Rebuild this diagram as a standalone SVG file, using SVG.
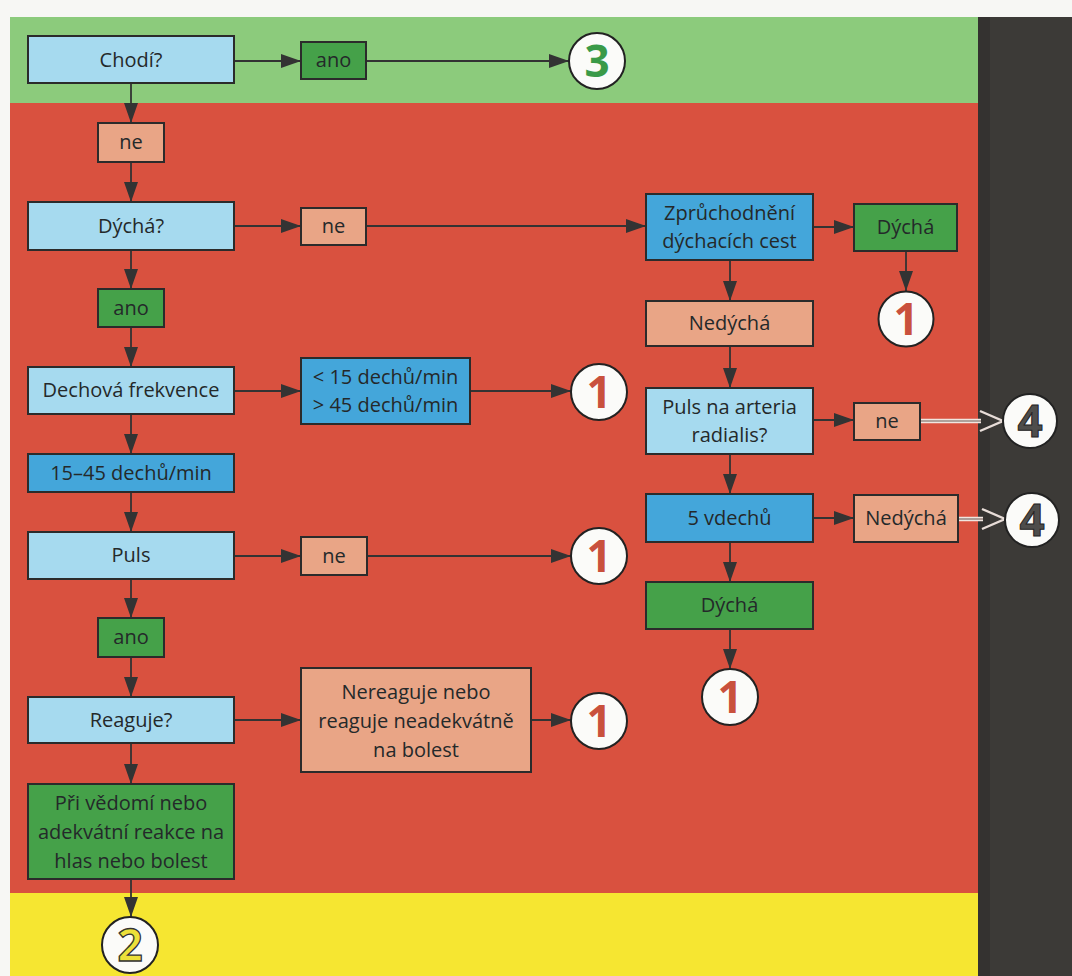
<svg xmlns="http://www.w3.org/2000/svg" width="1072" height="976" viewBox="0 0 1072 976">
<defs>
<style>
.box{stroke:#2b2b2b;stroke-width:2}
.lb{fill:#a6daef}
.mb{fill:#44a6da}
.dg{fill:#45a149}
.sa{fill:#e9a586}
.t{font-family:"Open Sans","Noto Sans","Liberation Sans",sans-serif;font-size:20px;fill:#24292a;text-anchor:middle}
.c{fill:#fbfbf9;stroke:#222;stroke-width:2}
.n{font-family:"Open Sans","Liberation Sans",sans-serif;font-weight:700;font-size:44px;text-anchor:middle}
.ln{fill:none;stroke:#333;stroke-width:1.8}
.dbl{fill:none;stroke:#f0e6e0;stroke-width:4.5}
.dbi{fill:none;stroke:#9a8a84;stroke-width:1.6}
</style>
<marker id="ah" markerUnits="userSpaceOnUse" markerWidth="20" markerHeight="14" refX="20" refY="7" orient="auto">
<path d="M0,0 L20,7 L0,14 z" fill="#333"/>
</marker>
</defs>
<rect x="0" y="0" width="1072" height="976" fill="#f7f7f4"/>
<rect x="10" y="17" width="970" height="86" fill="#8ccb7c"/>
<rect x="10" y="103" width="970" height="790" fill="#d9513f"/>
<rect x="10" y="893" width="970" height="83" fill="#f6e631"/>
<rect x="978" y="17" width="94" height="959" fill="#3c3a37"/>
<rect x="978" y="17" width="12" height="959" fill="#343230"/>

<g id="connectors">
<path class="ln" d="M234,61 H301" marker-end="url(#ah)"/>
<path class="ln" d="M366,61 H569" marker-end="url(#ah)"/>
<path class="ln" d="M131,83 V123" marker-end="url(#ah)"/>
<path class="ln" d="M131,162 V202" marker-end="url(#ah)"/>
<path class="ln" d="M234,226 H301" marker-end="url(#ah)"/>
<path class="ln" d="M366,226 H646" marker-end="url(#ah)"/>
<path class="ln" d="M813,227 H854" marker-end="url(#ah)"/>
<path class="ln" d="M906,251 V291" marker-end="url(#ah)"/>
<path class="ln" d="M730,260 V301" marker-end="url(#ah)"/>
<path class="ln" d="M730,346 V388" marker-end="url(#ah)"/>
<path class="ln" d="M813,420 H854" marker-end="url(#ah)"/>
<path class="ln" d="M730,454 V494" marker-end="url(#ah)"/>
<path class="ln" d="M813,518 H854" marker-end="url(#ah)"/>
<path class="ln" d="M730,542 V582" marker-end="url(#ah)"/>
<path class="ln" d="M730,629 V669" marker-end="url(#ah)"/>
<path class="ln" d="M131,250 V289" marker-end="url(#ah)"/>
<path class="ln" d="M131,327 V367" marker-end="url(#ah)"/>
<path class="ln" d="M234,391 H301" marker-end="url(#ah)"/>
<path class="ln" d="M470,391 H571" marker-end="url(#ah)"/>
<path class="ln" d="M131,414 V454" marker-end="url(#ah)"/>
<path class="ln" d="M131,492 V532" marker-end="url(#ah)"/>
<path class="ln" d="M234,556 H301" marker-end="url(#ah)"/>
<path class="ln" d="M367,556 H571" marker-end="url(#ah)"/>
<path class="ln" d="M131,579 V618" marker-end="url(#ah)"/>
<path class="ln" d="M131,657 V697" marker-end="url(#ah)"/>
<path class="ln" d="M234,720 H301" marker-end="url(#ah)"/>
<path class="ln" d="M531,720 H571" marker-end="url(#ah)"/>
<path class="ln" d="M131,743 V784" marker-end="url(#ah)"/>
<path class="ln" d="M131,879 V917" marker-end="url(#ah)"/>
<g id="double-arrows">
<path class="dbl" d="M920,421 H981"/>
<path class="dbi" d="M920,421 H981"/>
<path d="M980,411 L1003,421 L980,431" fill="none" stroke="#e8ddd8" stroke-width="2.4"/>
<path class="dbl" d="M958,519 H983"/>
<path class="dbi" d="M958,519 H983"/>
<path d="M982,509 L1005,519 L982,529" fill="none" stroke="#e8ddd8" stroke-width="2.4"/>
</g>
</g>

<g id="chodi"><rect class="box lb" x="28" y="36" width="206" height="47"/><text class="t" x="131" y="67">Chodí?</text></g>
<g id="chodi-ano"><rect class="box dg" x="301" y="42" width="65" height="37"/><text class="t" x="333.5" y="67">ano</text></g>
<g id="c3"><circle class="c" cx="597" cy="61" r="28"/><text class="n" x="597" y="77" fill="#3a9a48">3</text></g>
<g id="chodi-ne"><rect class="box sa" x="98" y="123" width="66" height="39"/><text class="t" x="131" y="149">ne</text></g>
<g id="dycha"><rect class="box lb" x="28" y="202" width="206" height="48"/><text class="t" x="131" y="233">Dýchá?</text></g>
<g id="dycha-ne"><rect class="box sa" x="301" y="208" width="65" height="37"/><text class="t" x="333.5" y="233">ne</text></g>
<g id="zpruchodneni"><rect class="box mb" x="646" y="194" width="167" height="66"/><text class="t" x="729.5" y="220">Zprůchodnění</text><text class="t" x="729.5" y="248">dýchacích cest</text></g>
<g id="dycha2"><rect class="box dg" x="854" y="204" width="103" height="47"/><text class="t" x="905.5" y="234">Dýchá</text></g>
<g id="c1a"><circle class="c" cx="906" cy="319" r="27.5"/><text class="n" x="906" y="335" fill="#c9513d">1</text></g>
<g id="nedycha1"><rect class="box sa" x="646" y="301" width="167" height="45"/><text class="t" x="729.5" y="330">Nedýchá</text></g>
<g id="puls-ar"><rect class="box lb" x="646" y="388" width="167" height="66"/><text class="t" x="729.5" y="414">Puls na arteria</text><text class="t" x="729.5" y="442">radialis?</text></g>
<g id="puls-ar-ne"><rect class="box sa" x="854" y="403" width="66" height="37"/><text class="t" x="887" y="428">ne</text></g>
<g id="c4a"><circle class="c" cx="1030" cy="421" r="27"/><text class="n" x="1030" y="437" fill="#4e4d4b" stroke="#222" stroke-width="1">4</text></g>
<g id="vdechu"><rect class="box mb" x="646" y="494" width="167" height="48"/><text class="t" x="729.5" y="525">5 vdechů</text></g>
<g id="nedycha2"><rect class="box sa" x="854" y="495" width="104" height="47"/><text class="t" x="906" y="525">Nedýchá</text></g>
<g id="c4b"><circle class="c" cx="1032" cy="520" r="27"/><text class="n" x="1032" y="536" fill="#4e4d4b" stroke="#222" stroke-width="1">4</text></g>
<g id="dycha3"><rect class="box dg" x="646" y="582" width="167" height="47"/><text class="t" x="729.5" y="612">Dýchá</text></g>
<g id="c1b"><circle class="c" cx="730" cy="697" r="28"/><text class="n" x="730" y="713" fill="#c9513d">1</text></g>
<g id="dycha-ano"><rect class="box dg" x="98" y="289" width="66" height="38"/><text class="t" x="131" y="315">ano</text></g>
<g id="dechova"><rect class="box lb" x="28" y="367" width="206" height="47"/><text class="t" x="131" y="397">Dechová frekvence</text></g>
<g id="mimo"><rect class="box mb" x="301" y="358" width="169" height="66"/><text class="t" x="385.5" y="384">&lt; 15 dechů/min</text><text class="t" x="385.5" y="412">&gt; 45 dechů/min</text></g>
<g id="c1c"><circle class="c" cx="599" cy="392" r="28"/><text class="n" x="599" y="408" fill="#c9513d">1</text></g>
<g id="norm"><rect class="box mb" x="28" y="454" width="206" height="38"/><text class="t" x="131" y="480">15–45 dechů/min</text></g>
<g id="puls"><rect class="box lb" x="28" y="532" width="206" height="47"/><text class="t" x="131" y="562">Puls</text></g>
<g id="puls-ne"><rect class="box sa" x="301" y="537" width="66" height="38"/><text class="t" x="334" y="563">ne</text></g>
<g id="c1d"><circle class="c" cx="599" cy="556" r="28"/><text class="n" x="599" y="572" fill="#c9513d">1</text></g>
<g id="puls-ano"><rect class="box dg" x="98" y="618" width="66" height="39"/><text class="t" x="131" y="644">ano</text></g>
<g id="reaguje"><rect class="box lb" x="28" y="697" width="206" height="46"/><text class="t" x="131" y="727">Reaguje?</text></g>
<g id="nereaguje"><rect class="box sa" x="301" y="668" width="230" height="104"/><text class="t" x="416" y="699">Nereaguje nebo</text><text class="t" x="416" y="728">reaguje neadekvátně</text><text class="t" x="416" y="757">na bolest</text></g>
<g id="c1e"><circle class="c" cx="599" cy="721" r="28"/><text class="n" x="599" y="737" fill="#c9513d">1</text></g>
<g id="vedomi"><rect class="box dg" x="28" y="784" width="206" height="95"/><text class="t" x="131" y="810">Při vědomí nebo</text><text class="t" x="131" y="839">adekvátní reakce na</text><text class="t" x="131" y="868">hlas nebo bolest</text></g>
<g id="c2"><circle class="c" cx="130" cy="945" r="28"/><text class="n" x="130" y="961" fill="#ece03a" stroke="#333" stroke-width="1.3">2</text></g>
</svg>
